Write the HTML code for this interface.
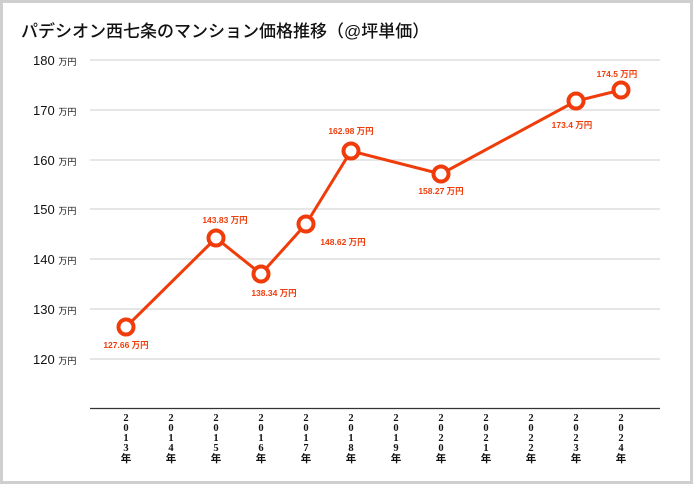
<!DOCTYPE html>
<html><head><meta charset="utf-8"><style>
html,body{margin:0;padding:0;background:#fff;}
svg{display:block;}
</style></head><body>
<svg width="693" height="484" xmlns="http://www.w3.org/2000/svg" font-family="'Liberation Sans','Noto Sans CJK JP',sans-serif">
<rect x="1.5" y="1.5" width="690" height="481" fill="#fff" stroke="#cfcfcf" stroke-width="3"/>
<text x="21" y="37" font-size="17" fill="#111" font-weight="500">パデシオン西七条のマンション価格推移（@坪単価）</text>
<g stroke="#d6d6d6" stroke-width="1.2">
<line x1="90" x2="660" y1="60" y2="60"/><line x1="90" x2="660" y1="110" y2="110"/>
<line x1="90" x2="660" y1="160" y2="160"/><line x1="90" x2="660" y1="209" y2="209"/>
<line x1="90" x2="660" y1="259" y2="259"/><line x1="90" x2="660" y1="309" y2="309"/>
<line x1="90" x2="660" y1="359" y2="359"/>
</g>
<line x1="90" x2="660" y1="408.5" y2="408.5" stroke="#333" stroke-width="1.3"/>
<g font-size="13" fill="#111">
<text x="33" y="65">180 <tspan font-size="9">万円</tspan></text>
<text x="33" y="115">170 <tspan font-size="9">万円</tspan></text>
<text x="33" y="165">160 <tspan font-size="9">万円</tspan></text>
<text x="33" y="214">150 <tspan font-size="9">万円</tspan></text>
<text x="33" y="264">140 <tspan font-size="9">万円</tspan></text>
<text x="33" y="314">130 <tspan font-size="9">万円</tspan></text>
<text x="33" y="364">120 <tspan font-size="9">万円</tspan></text>
</g>
<g font-size="10.5" font-weight="bold" fill="#111" text-anchor="middle" font-family="'Liberation Serif','Noto Sans CJK JP',serif">
<g transform="translate(126,0)"><text y="421">2</text><text y="431">0</text><text y="441">1</text><text y="451">3</text><text y="462">年</text></g>
<g transform="translate(171,0)"><text y="421">2</text><text y="431">0</text><text y="441">1</text><text y="451">4</text><text y="462">年</text></g>
<g transform="translate(216,0)"><text y="421">2</text><text y="431">0</text><text y="441">1</text><text y="451">5</text><text y="462">年</text></g>
<g transform="translate(261,0)"><text y="421">2</text><text y="431">0</text><text y="441">1</text><text y="451">6</text><text y="462">年</text></g>
<g transform="translate(306,0)"><text y="421">2</text><text y="431">0</text><text y="441">1</text><text y="451">7</text><text y="462">年</text></g>
<g transform="translate(351,0)"><text y="421">2</text><text y="431">0</text><text y="441">1</text><text y="451">8</text><text y="462">年</text></g>
<g transform="translate(396,0)"><text y="421">2</text><text y="431">0</text><text y="441">1</text><text y="451">9</text><text y="462">年</text></g>
<g transform="translate(441,0)"><text y="421">2</text><text y="431">0</text><text y="441">2</text><text y="451">0</text><text y="462">年</text></g>
<g transform="translate(486,0)"><text y="421">2</text><text y="431">0</text><text y="441">2</text><text y="451">1</text><text y="462">年</text></g>
<g transform="translate(531,0)"><text y="421">2</text><text y="431">0</text><text y="441">2</text><text y="451">2</text><text y="462">年</text></g>
<g transform="translate(576,0)"><text y="421">2</text><text y="431">0</text><text y="441">2</text><text y="451">3</text><text y="462">年</text></g>
<g transform="translate(621,0)"><text y="421">2</text><text y="431">0</text><text y="441">2</text><text y="451">4</text><text y="462">年</text></g>
</g>
<polyline points="126,327 216,238 261,274 306,224 351,151 441,174 576,101 621,90" fill="none" stroke="#f03c0a" stroke-width="3"/>
<g fill="#fff" stroke="#f03c0a" stroke-width="4">
<circle cx="126" cy="327" r="7.5"/><circle cx="216" cy="238" r="7.5"/><circle cx="261" cy="274" r="7.5"/>
<circle cx="306" cy="224" r="7.5"/><circle cx="351" cy="151" r="7.5"/><circle cx="441" cy="174" r="7.5"/>
<circle cx="576" cy="101" r="7.5"/><circle cx="621" cy="90" r="7.5"/>
</g>
<g font-size="8.5" fill="#f03c0a" text-anchor="middle" font-weight="bold">
<text x="126" y="348">127.66 万円</text>
<text x="225" y="223">143.83 万円</text>
<text x="274" y="296">138.34 万円</text>
<text x="343" y="245">148.62 万円</text>
<text x="351" y="134">162.98 万円</text>
<text x="441" y="194">158.27 万円</text>
<text x="572" y="128">173.4 万円</text>
<text x="617" y="77">174.5 万円</text>
</g>
</svg>
</body></html>
